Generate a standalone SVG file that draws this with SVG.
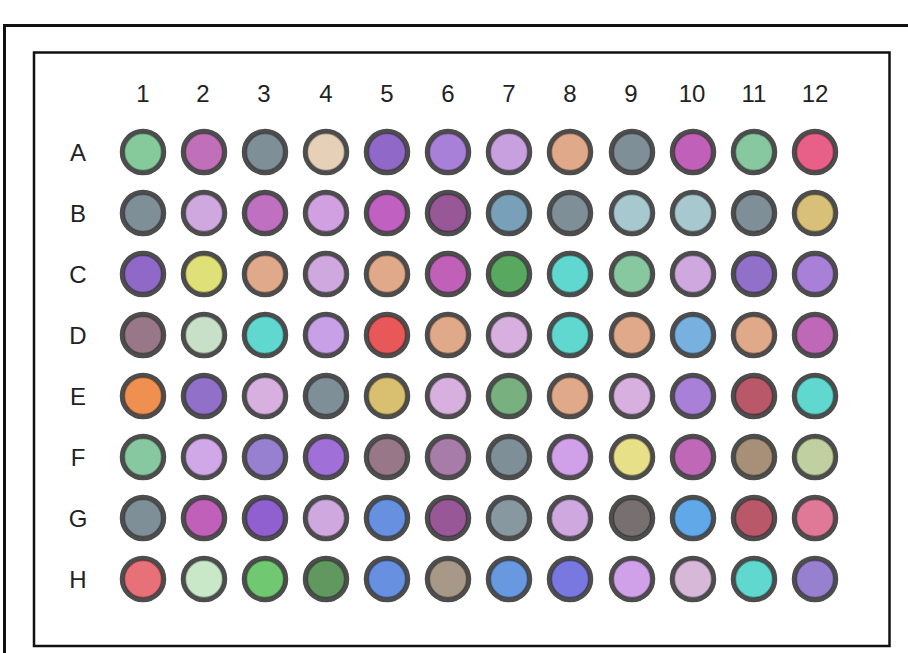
<svg xmlns="http://www.w3.org/2000/svg" width="908" height="653" viewBox="0 0 908 653">
<style>
.lbl{font-family:"Liberation Sans","DejaVu Sans",sans-serif;font-size:24px;fill:#222;text-anchor:middle}
.w{stroke:#4d4d4d;stroke-width:4.5}
.r{fill:none;stroke:#000;stroke-opacity:0.35;stroke-width:1.5}
</style>
<rect width="908" height="653" fill="#fff"/>
<g id="frame">
<rect x="4.5" y="25.5" width="920" height="650" fill="none" stroke="#111" stroke-width="3"/>
<rect x="34" y="52.5" width="855.5" height="593.5" fill="none" stroke="#111" stroke-width="2.5"/>
</g>
<g id="col-labels">
<text class="lbl" x="143" y="102">1</text><text class="lbl" x="203" y="102">2</text><text class="lbl" x="264" y="102">3</text><text class="lbl" x="326" y="102">4</text><text class="lbl" x="387" y="102">5</text><text class="lbl" x="448" y="102">6</text><text class="lbl" x="509" y="102">7</text><text class="lbl" x="570" y="102">8</text><text class="lbl" x="631" y="102">9</text><text class="lbl" x="692" y="102">10</text><text class="lbl" x="754" y="102">11</text><text class="lbl" x="815" y="102">12</text>
</g>
<g id="row-labels">
<text class="lbl" x="78" y="161">A</text><text class="lbl" x="78" y="222">B</text><text class="lbl" x="78" y="283">C</text><text class="lbl" x="78" y="344">D</text><text class="lbl" x="78" y="405">E</text><text class="lbl" x="78" y="466">F</text><text class="lbl" x="78" y="527">G</text><text class="lbl" x="78" y="588">H</text>
</g>
<defs>
<g id="ring"><circle class="r" r="18.5"/></g>
</defs>
<g id="row-A" transform="translate(0,152)">
<g id="A1" transform="translate(143,0)"><circle class="w" r="21" fill="#86c99a"/><use href="#ring"/></g>
<g id="A2" transform="translate(204,0)"><circle class="w" r="21" fill="#c070b8"/><use href="#ring"/></g>
<g id="A3" transform="translate(265,0)"><circle class="w" r="21" fill="#7f8f98"/><use href="#ring"/></g>
<g id="A4" transform="translate(326,0)"><circle class="w" r="21" fill="#e6d0b8"/><use href="#ring"/></g>
<g id="A5" transform="translate(387,0)"><circle class="w" r="21" fill="#9068c8"/><use href="#ring"/></g>
<g id="A6" transform="translate(448,0)"><circle class="w" r="21" fill="#a880d8"/><use href="#ring"/></g>
<g id="A7" transform="translate(509,0)"><circle class="w" r="21" fill="#c8a0e0"/><use href="#ring"/></g>
<g id="A8" transform="translate(570,0)"><circle class="w" r="21" fill="#e0aa8a"/><use href="#ring"/></g>
<g id="A9" transform="translate(632,0)"><circle class="w" r="21" fill="#7f8f98"/><use href="#ring"/></g>
<g id="A10" transform="translate(693,0)"><circle class="w" r="21" fill="#c060b8"/><use href="#ring"/></g>
<g id="A11" transform="translate(754,0)"><circle class="w" r="21" fill="#88c8a0"/><use href="#ring"/></g>
<g id="A12" transform="translate(815,0)"><circle class="w" r="21" fill="#e86088"/><use href="#ring"/></g>
</g>
<g id="row-B" transform="translate(0,213)">
<g id="B1" transform="translate(143,0)"><circle class="w" r="21" fill="#7f8f98"/><use href="#ring"/></g>
<g id="B2" transform="translate(204,0)"><circle class="w" r="21" fill="#d0a8e0"/><use href="#ring"/></g>
<g id="B3" transform="translate(265,0)"><circle class="w" r="21" fill="#c070c0"/><use href="#ring"/></g>
<g id="B4" transform="translate(326,0)"><circle class="w" r="21" fill="#d0a0e0"/><use href="#ring"/></g>
<g id="B5" transform="translate(387,0)"><circle class="w" r="21" fill="#c060c0"/><use href="#ring"/></g>
<g id="B6" transform="translate(448,0)"><circle class="w" r="21" fill="#985898"/><use href="#ring"/></g>
<g id="B7" transform="translate(509,0)"><circle class="w" r="21" fill="#78a0b8"/><use href="#ring"/></g>
<g id="B8" transform="translate(570,0)"><circle class="w" r="21" fill="#7f8f98"/><use href="#ring"/></g>
<g id="B9" transform="translate(632,0)"><circle class="w" r="21" fill="#a8c8d0"/><use href="#ring"/></g>
<g id="B10" transform="translate(693,0)"><circle class="w" r="21" fill="#a8c8d0"/><use href="#ring"/></g>
<g id="B11" transform="translate(754,0)"><circle class="w" r="21" fill="#7f8f98"/><use href="#ring"/></g>
<g id="B12" transform="translate(815,0)"><circle class="w" r="21" fill="#d8c078"/><use href="#ring"/></g>
</g>
<g id="row-C" transform="translate(0,274)">
<g id="C1" transform="translate(143,0)"><circle class="w" r="21" fill="#9068c8"/><use href="#ring"/></g>
<g id="C2" transform="translate(204,0)"><circle class="w" r="21" fill="#e0e078"/><use href="#ring"/></g>
<g id="C3" transform="translate(265,0)"><circle class="w" r="21" fill="#e0aa8a"/><use href="#ring"/></g>
<g id="C4" transform="translate(326,0)"><circle class="w" r="21" fill="#d0a8e0"/><use href="#ring"/></g>
<g id="C5" transform="translate(387,0)"><circle class="w" r="21" fill="#e0aa8a"/><use href="#ring"/></g>
<g id="C6" transform="translate(448,0)"><circle class="w" r="21" fill="#c060b8"/><use href="#ring"/></g>
<g id="C7" transform="translate(509,0)"><circle class="w" r="21" fill="#58a860"/><use href="#ring"/></g>
<g id="C8" transform="translate(570,0)"><circle class="w" r="21" fill="#60d8d0"/><use href="#ring"/></g>
<g id="C9" transform="translate(632,0)"><circle class="w" r="21" fill="#88c8a0"/><use href="#ring"/></g>
<g id="C10" transform="translate(693,0)"><circle class="w" r="21" fill="#d0a8e0"/><use href="#ring"/></g>
<g id="C11" transform="translate(754,0)"><circle class="w" r="21" fill="#9070c8"/><use href="#ring"/></g>
<g id="C12" transform="translate(815,0)"><circle class="w" r="21" fill="#a880d8"/><use href="#ring"/></g>
</g>
<g id="row-D" transform="translate(0,335)">
<g id="D1" transform="translate(143,0)"><circle class="w" r="21" fill="#987888"/><use href="#ring"/></g>
<g id="D2" transform="translate(204,0)"><circle class="w" r="21" fill="#c8e0c8"/><use href="#ring"/></g>
<g id="D3" transform="translate(265,0)"><circle class="w" r="21" fill="#60d8d0"/><use href="#ring"/></g>
<g id="D4" transform="translate(326,0)"><circle class="w" r="21" fill="#c8a0e8"/><use href="#ring"/></g>
<g id="D5" transform="translate(387,0)"><circle class="w" r="21" fill="#e85858"/><use href="#ring"/></g>
<g id="D6" transform="translate(448,0)"><circle class="w" r="21" fill="#e0aa8a"/><use href="#ring"/></g>
<g id="D7" transform="translate(509,0)"><circle class="w" r="21" fill="#d8b0e0"/><use href="#ring"/></g>
<g id="D8" transform="translate(570,0)"><circle class="w" r="21" fill="#60d8d0"/><use href="#ring"/></g>
<g id="D9" transform="translate(632,0)"><circle class="w" r="21" fill="#e0aa8a"/><use href="#ring"/></g>
<g id="D10" transform="translate(693,0)"><circle class="w" r="21" fill="#78b0e0"/><use href="#ring"/></g>
<g id="D11" transform="translate(754,0)"><circle class="w" r="21" fill="#e0aa8a"/><use href="#ring"/></g>
<g id="D12" transform="translate(815,0)"><circle class="w" r="21" fill="#c068b8"/><use href="#ring"/></g>
</g>
<g id="row-E" transform="translate(0,396)">
<g id="E1" transform="translate(143,0)"><circle class="w" r="21" fill="#f09050"/><use href="#ring"/></g>
<g id="E2" transform="translate(204,0)"><circle class="w" r="21" fill="#9070c8"/><use href="#ring"/></g>
<g id="E3" transform="translate(265,0)"><circle class="w" r="21" fill="#d8b0e0"/><use href="#ring"/></g>
<g id="E4" transform="translate(326,0)"><circle class="w" r="21" fill="#7f8f98"/><use href="#ring"/></g>
<g id="E5" transform="translate(387,0)"><circle class="w" r="21" fill="#d8c070"/><use href="#ring"/></g>
<g id="E6" transform="translate(448,0)"><circle class="w" r="21" fill="#d8b0e0"/><use href="#ring"/></g>
<g id="E7" transform="translate(509,0)"><circle class="w" r="21" fill="#78b080"/><use href="#ring"/></g>
<g id="E8" transform="translate(570,0)"><circle class="w" r="21" fill="#e0aa8a"/><use href="#ring"/></g>
<g id="E9" transform="translate(632,0)"><circle class="w" r="21" fill="#d8b0e0"/><use href="#ring"/></g>
<g id="E10" transform="translate(693,0)"><circle class="w" r="21" fill="#a880d8"/><use href="#ring"/></g>
<g id="E11" transform="translate(754,0)"><circle class="w" r="21" fill="#b85868"/><use href="#ring"/></g>
<g id="E12" transform="translate(815,0)"><circle class="w" r="21" fill="#60d8d0"/><use href="#ring"/></g>
</g>
<g id="row-F" transform="translate(0,457)">
<g id="F1" transform="translate(143,0)"><circle class="w" r="21" fill="#88c8a0"/><use href="#ring"/></g>
<g id="F2" transform="translate(204,0)"><circle class="w" r="21" fill="#d0a8e8"/><use href="#ring"/></g>
<g id="F3" transform="translate(265,0)"><circle class="w" r="21" fill="#9880d0"/><use href="#ring"/></g>
<g id="F4" transform="translate(326,0)"><circle class="w" r="21" fill="#a070d8"/><use href="#ring"/></g>
<g id="F5" transform="translate(387,0)"><circle class="w" r="21" fill="#987888"/><use href="#ring"/></g>
<g id="F6" transform="translate(448,0)"><circle class="w" r="21" fill="#a87ca8"/><use href="#ring"/></g>
<g id="F7" transform="translate(509,0)"><circle class="w" r="21" fill="#7f8f98"/><use href="#ring"/></g>
<g id="F8" transform="translate(570,0)"><circle class="w" r="21" fill="#d0a0e8"/><use href="#ring"/></g>
<g id="F9" transform="translate(632,0)"><circle class="w" r="21" fill="#e8e088"/><use href="#ring"/></g>
<g id="F10" transform="translate(693,0)"><circle class="w" r="21" fill="#c068b8"/><use href="#ring"/></g>
<g id="F11" transform="translate(754,0)"><circle class="w" r="21" fill="#a89078"/><use href="#ring"/></g>
<g id="F12" transform="translate(815,0)"><circle class="w" r="21" fill="#c0d0a0"/><use href="#ring"/></g>
</g>
<g id="row-G" transform="translate(0,518)">
<g id="G1" transform="translate(143,0)"><circle class="w" r="21" fill="#7f8f98"/><use href="#ring"/></g>
<g id="G2" transform="translate(204,0)"><circle class="w" r="21" fill="#c060b8"/><use href="#ring"/></g>
<g id="G3" transform="translate(265,0)"><circle class="w" r="21" fill="#9060d0"/><use href="#ring"/></g>
<g id="G4" transform="translate(326,0)"><circle class="w" r="21" fill="#d0a8e0"/><use href="#ring"/></g>
<g id="G5" transform="translate(387,0)"><circle class="w" r="21" fill="#6890e0"/><use href="#ring"/></g>
<g id="G6" transform="translate(448,0)"><circle class="w" r="21" fill="#985898"/><use href="#ring"/></g>
<g id="G7" transform="translate(509,0)"><circle class="w" r="21" fill="#8898a0"/><use href="#ring"/></g>
<g id="G8" transform="translate(570,0)"><circle class="w" r="21" fill="#d0a8e0"/><use href="#ring"/></g>
<g id="G9" transform="translate(632,0)"><circle class="w" r="21" fill="#787070"/><use href="#ring"/></g>
<g id="G10" transform="translate(693,0)"><circle class="w" r="21" fill="#60a8e8"/><use href="#ring"/></g>
<g id="G11" transform="translate(754,0)"><circle class="w" r="21" fill="#b85868"/><use href="#ring"/></g>
<g id="G12" transform="translate(815,0)"><circle class="w" r="21" fill="#e07898"/><use href="#ring"/></g>
</g>
<g id="row-H" transform="translate(0,579)">
<g id="H1" transform="translate(143,0)"><circle class="w" r="21" fill="#e87078"/><use href="#ring"/></g>
<g id="H2" transform="translate(204,0)"><circle class="w" r="21" fill="#c8e8c8"/><use href="#ring"/></g>
<g id="H3" transform="translate(265,0)"><circle class="w" r="21" fill="#70c870"/><use href="#ring"/></g>
<g id="H4" transform="translate(326,0)"><circle class="w" r="21" fill="#609860"/><use href="#ring"/></g>
<g id="H5" transform="translate(387,0)"><circle class="w" r="21" fill="#6890e0"/><use href="#ring"/></g>
<g id="H6" transform="translate(448,0)"><circle class="w" r="21" fill="#a89888"/><use href="#ring"/></g>
<g id="H7" transform="translate(509,0)"><circle class="w" r="21" fill="#6898e0"/><use href="#ring"/></g>
<g id="H8" transform="translate(570,0)"><circle class="w" r="21" fill="#7878e0"/><use href="#ring"/></g>
<g id="H9" transform="translate(632,0)"><circle class="w" r="21" fill="#d0a0e8"/><use href="#ring"/></g>
<g id="H10" transform="translate(693,0)"><circle class="w" r="21" fill="#d8b8d8"/><use href="#ring"/></g>
<g id="H11" transform="translate(754,0)"><circle class="w" r="21" fill="#60d8d0"/><use href="#ring"/></g>
<g id="H12" transform="translate(815,0)"><circle class="w" r="21" fill="#9880d0"/><use href="#ring"/></g>
</g>
</svg>
